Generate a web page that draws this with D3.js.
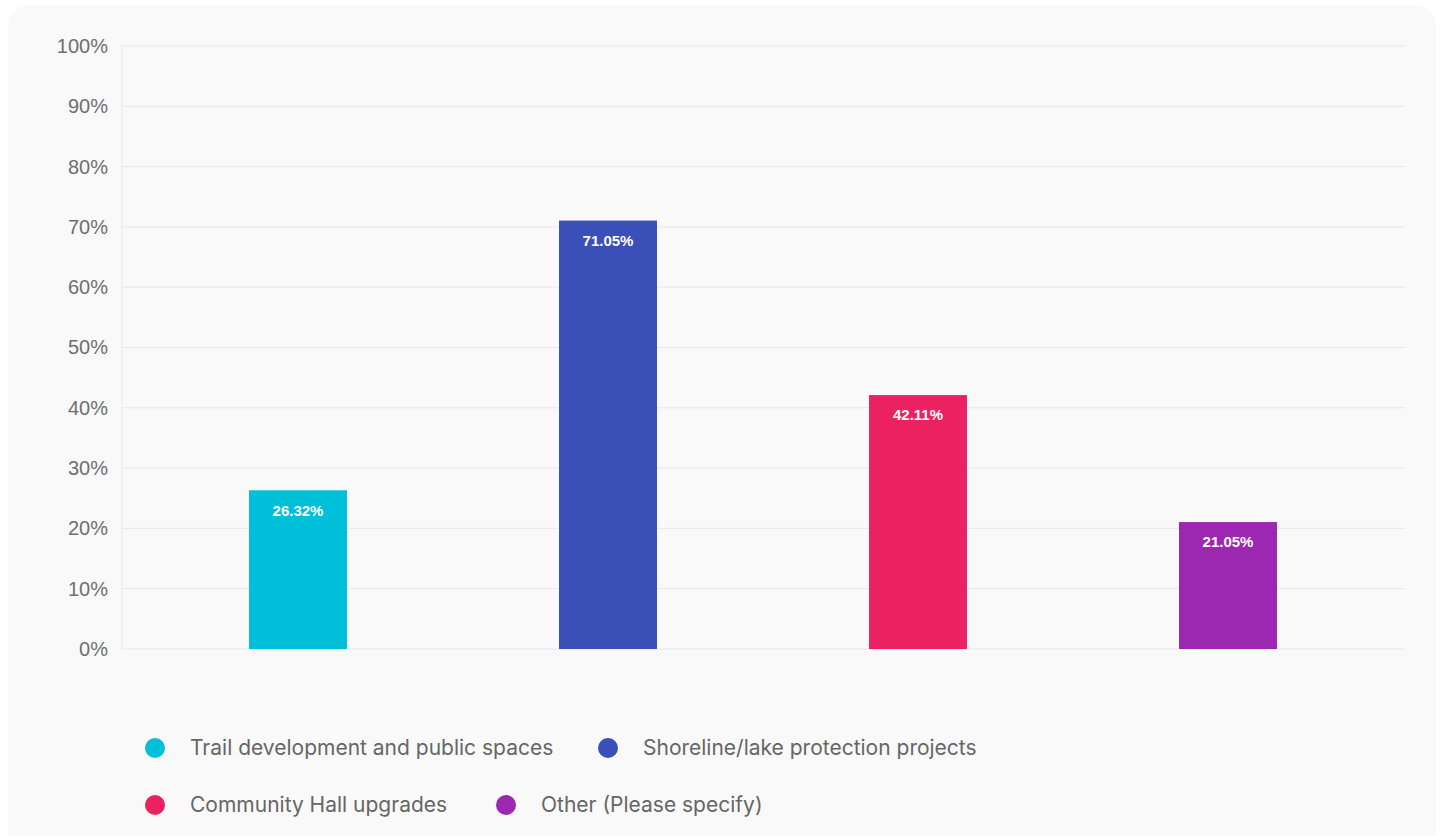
<!DOCTYPE html>
<html><head><meta charset="utf-8">
<script src="https://cdn.jsdelivr.net/npm/d3@7"></script>
<style>
html,body{margin:0;padding:0;background:#fff;}
svg{display:block;}
</style></head>
<body>
<svg id="chart" width="1442" height="836"></svg>
<script>
const categories = ["Trail development and public spaces","Shoreline/lake protection projects","Community Hall upgrades","Other (Please specify)"];
const values = [26.32, 71.05, 42.11, 21.05];
const colors = ["#00bfd8","#3a4fb8","#ec2162","#9c27b0"];
const yTicks = [0,10,20,30,40,50,60,70,80,90,100];

(function(){
const svg = d3.select("#chart");
svg.append("rect").attr("x",8).attr("y",5).attr("width",1428).attr("height",850).attr("rx",22).attr("fill","#f9f9f9");

const pLeft=122, pRight=1405, pTop=46, pBottom=649;
const y = d3.scaleLinear().domain([0,100]).range([pBottom,pTop]);
const x = d3.scaleBand().domain(categories).range([143,1383]).paddingInner(0.684).paddingOuter(0.342);

svg.append("g").selectAll("line").data(yTicks).join("line")
  .attr("x1",pLeft).attr("x2",pRight).attr("y1",d=>y(d)).attr("y2",d=>y(d))
  .attr("stroke","#e8e8e8").attr("stroke-width",1);
svg.append("line").attr("x1",pLeft).attr("x2",pLeft).attr("y1",pTop).attr("y2",pBottom).attr("stroke","#e8e8e8");

const yAxis = d3.axisLeft(y).tickValues(yTicks).tickFormat(d=>d+"%").tickSize(0).tickPadding(14);
const ga = svg.append("g").attr("transform",`translate(${pLeft},0)`).call(yAxis);
ga.select(".domain").remove();
ga.selectAll("text").attr("font-family","Liberation Sans, Arial, sans-serif").attr("font-size",20).attr("fill","#6f6f6f");

svg.append("g").selectAll("rect").data(values).join("rect")
  .attr("x",(d,i)=>x(categories[i])).attr("width",x.bandwidth())
  .attr("y",d=>y(d)).attr("height",d=>pBottom-y(d)).attr("fill",(d,i)=>colors[i]);

svg.append("g").selectAll("text").data(values).join("text")
  .attr("x",(d,i)=>x(categories[i])+x.bandwidth()/2).attr("y",d=>y(d)+20)
  .attr("dy","0.35em")
  .attr("text-anchor","middle").attr("fill","#fff")
  .attr("font-family","Liberation Sans, Arial, sans-serif").attr("font-size",15).attr("font-weight","bold")
  .text(d=>d.toFixed(2)+"%");

const legendPos = [[155,748],[608,748],[155,805],[506,805]];
const lg = svg.append("g").selectAll("g").data(categories).join("g")
  .attr("transform",(d,i)=>`translate(${legendPos[i][0]},${legendPos[i][1]})`);
lg.append("circle").attr("r",10).attr("fill",(d,i)=>colors[i]);
lg.append("text").attr("x",35).attr("dy","0.35em").attr("font-family","Inter, Open Sans, sans-serif")
  .attr("font-size",21).attr("fill","#666").text(d=>d);
})();
</script>
</body></html>
